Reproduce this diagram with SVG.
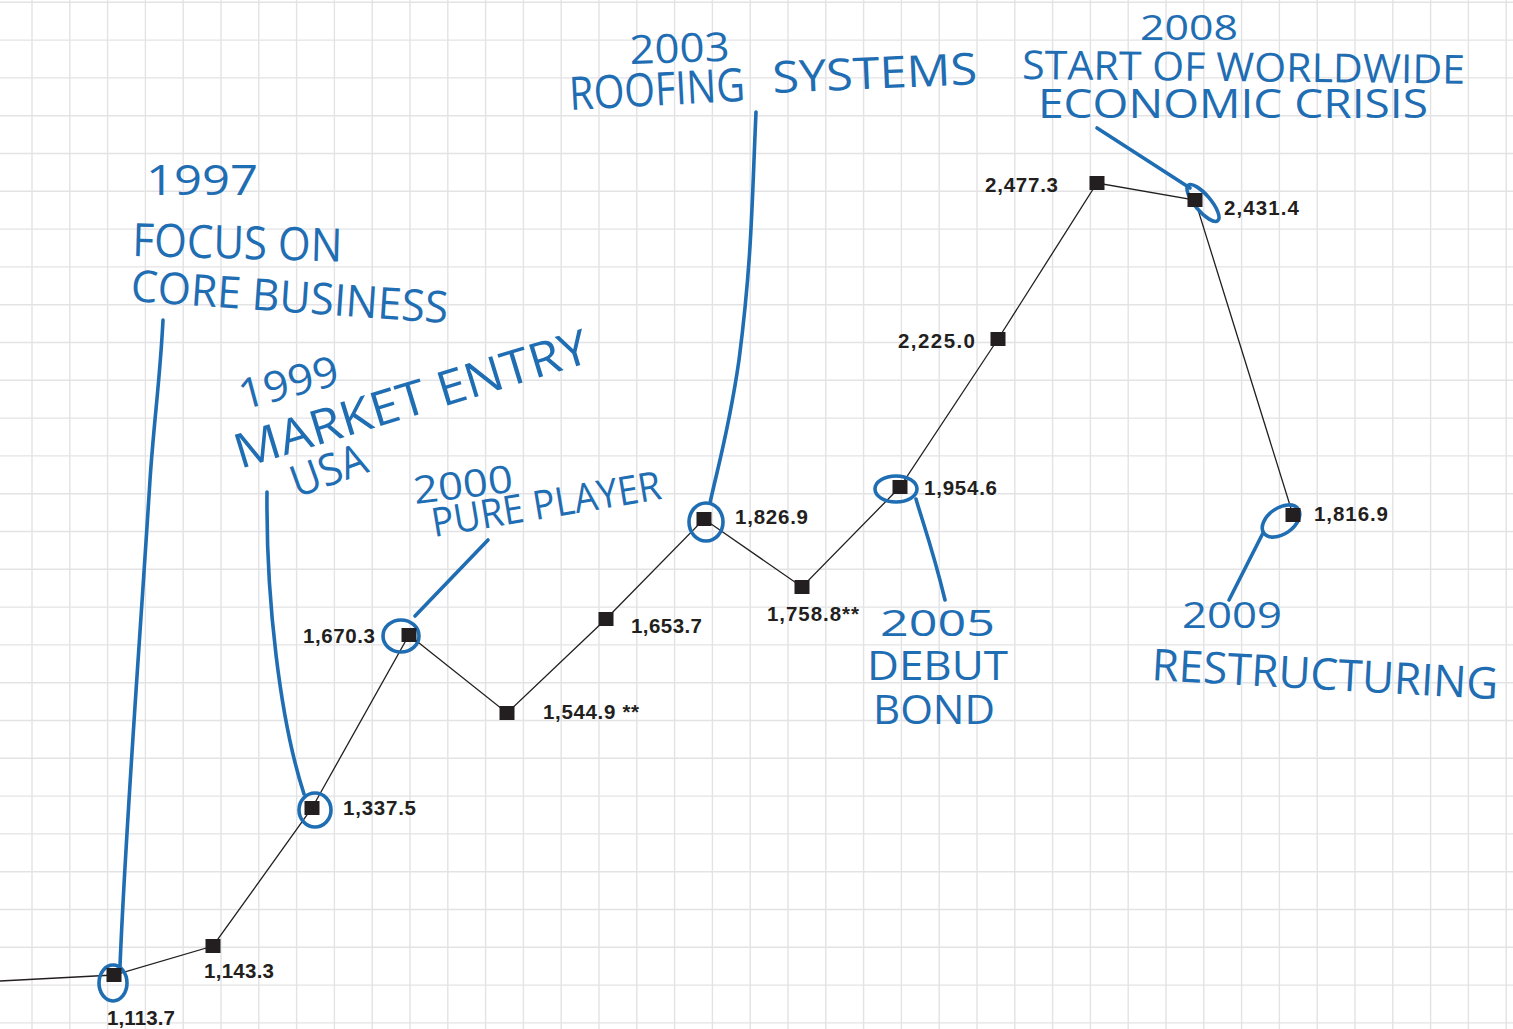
<svg xmlns="http://www.w3.org/2000/svg" width="1513" height="1029" viewBox="0 0 1513 1029">
  <style>
    .grid { stroke: #e3e3e6; stroke-width: 1.4; fill: none; }
    .series { stroke: #231f20; stroke-width: 1.3; fill: none; }
    .pt { fill: #231f20; }
    .val { font-family: "Liberation Sans", Arial, sans-serif; font-weight: bold; font-size: 20.5px; fill: #231f20; }
    .pen { stroke: #1f6db2; stroke-width: 3.6; fill: none; stroke-linecap: round; stroke-linejoin: round; }
    .hand { font-family: "Open Sans", "Noto Sans", sans-serif; font-weight: 400; fill: #1f6db2; }
  </style>

  <rect width="1513" height="1029" fill="#ffffff"/>

  <!-- squared paper -->
  <g id="grid" class="grid">
    <path d="M32 0V1029M69.8 0V1029M107.6 0V1029M145.4 0V1029M183.2 0V1029M221 0V1029M258.8 0V1029M296.6 0V1029M334.4 0V1029M372.2 0V1029M410 0V1029M447.8 0V1029M485.6 0V1029M523.4 0V1029M561.2 0V1029M599 0V1029M636.8 0V1029M674.6 0V1029M712.4 0V1029M750.2 0V1029M788 0V1029M825.8 0V1029M863.6 0V1029M901.4 0V1029M939.2 0V1029M977 0V1029M1014.8 0V1029M1052.6 0V1029M1090.4 0V1029M1128.2 0V1029M1166 0V1029M1203.8 0V1029M1241.6 0V1029M1279.4 0V1029M1317.2 0V1029M1355 0V1029M1392.8 0V1029M1430.6 0V1029M1468.4 0V1029M1506.2 0V1029"/>
    <path d="M0 2.3H1513M0 40.1H1513M0 77.9H1513M0 115.7H1513M0 153.5H1513M0 191.3H1513M0 229.1H1513M0 266.9H1513M0 304.7H1513M0 342.5H1513M0 380.3H1513M0 418.1H1513M0 455.9H1513M0 493.7H1513M0 531.5H1513M0 569.3H1513M0 607.1H1513M0 644.9H1513M0 682.7H1513M0 720.5H1513M0 758.3H1513M0 796.1H1513M0 833.9H1513M0 871.7H1513M0 909.5H1513M0 947.3H1513M0 985.1H1513M0 1022.9H1513"/>
  </g>

  <!-- series line and pen leaders -->
  <g id="connectors">
    <path class="series" d="M0 981L114 975L213 946L312 808L409 635L507 713L606 619L704 519L802 587L900 487L998 339L1097 183L1195 200L1293 515"/>

    <path class="pen" d="M163 320C160 380 154 420 150 480C140 640 126 820 120 966"/>
    <ellipse class="pen" cx="113" cy="983" rx="14" ry="18"/>

    <path class="pen" d="M267 492C266 600 280 720 304 794"/>
    <ellipse class="pen" cx="315" cy="810" rx="16" ry="17"/>

    <path class="pen" d="M488 540L415 616"/>
    <ellipse class="pen" cx="401" cy="636" rx="18" ry="16"/>

    <path class="pen" d="M756 112C752 200 752 260 739 360C729 430 717 470 710 503"/>
    <ellipse class="pen" cx="706" cy="522" rx="17" ry="19"/>

    <ellipse class="pen" cx="896" cy="489" rx="21" ry="13"/>
    <path class="pen" d="M916 499C922 520 933 550 945 600"/>

    <path class="pen" d="M1097 128L1190 188"/>
    <ellipse class="pen" cx="1203" cy="203" rx="23" ry="8" transform="rotate(50 1203 203)"/>

    <path class="pen" d="M1229 600L1263 533"/>
    <ellipse class="pen" cx="1281" cy="521" rx="21" ry="13" transform="rotate(-35 1281 521)"/>
  </g>

  <!-- data points -->
  <g id="p1997"><rect class="pt" x="106.5" y="968" width="15" height="14"/><text class="val" x="107" y="1025" textLength="68">1,113.7</text></g>
  <g id="p1998"><rect class="pt" x="205.5" y="939" width="15" height="14"/><text class="val" x="204" y="978" textLength="70">1,143.3</text></g>
  <g id="p1999"><rect class="pt" x="304.5" y="801" width="15" height="14"/><text class="val" x="343" y="815" textLength="73">1,337.5</text></g>
  <g id="p2000"><rect class="pt" x="401.5" y="628" width="15" height="14"/><text class="val" x="303" y="643" textLength="72">1,670.3</text></g>
  <g id="p2001"><rect class="pt" x="499.5" y="706" width="15" height="14"/><text class="val" x="543" y="719" textLength="96">1,544.9 **</text></g>
  <g id="p2002"><rect class="pt" x="598.5" y="612" width="15" height="14"/><text class="val" x="631" y="633" textLength="71">1,653.7</text></g>
  <g id="p2003"><rect class="pt" x="696.5" y="512" width="15" height="14"/><text class="val" x="735" y="524" textLength="73">1,826.9</text></g>
  <g id="p2004"><rect class="pt" x="794.5" y="580" width="15" height="14"/><text class="val" x="767" y="621" textLength="92">1,758.8**</text></g>
  <g id="p2005"><rect class="pt" x="892.5" y="480" width="15" height="14"/><text class="val" x="924" y="495" textLength="73">1,954.6</text></g>
  <g id="p2006"><rect class="pt" x="990.5" y="332" width="15" height="14"/><text class="val" x="898" y="348" textLength="77">2,225.0</text></g>
  <g id="p2007"><rect class="pt" x="1089.5" y="176" width="15" height="14"/><text class="val" x="985" y="192" textLength="73">2,477.3</text></g>
  <g id="p2008"><rect class="pt" x="1187.5" y="193" width="15" height="14"/><text class="val" x="1224" y="215" textLength="75">2,431.4</text></g>
  <g id="p2009"><rect class="pt" x="1285.5" y="508" width="15" height="14"/><text class="val" x="1314" y="521" textLength="74">1,816.9</text></g>

  <!-- handwritten notes -->
  <g id="note1997" class="hand">
    <text x="146" y="195" font-size="42" textLength="112" lengthAdjust="spacingAndGlyphs">1997</text>
    <text x="132" y="256" font-size="46" textLength="210" lengthAdjust="spacingAndGlyphs" transform="rotate(1.5 132 256)">FOCUS ON</text>
    <text x="130" y="301" font-size="44" textLength="318" lengthAdjust="spacingAndGlyphs" transform="rotate(4 130 301)">CORE BUSINESS</text>
  </g>

  <g id="note1999" class="hand">
    <text x="243" y="410" font-size="42" textLength="102" lengthAdjust="spacingAndGlyphs" transform="rotate(-15 243 410)">1999</text>
    <text x="240" y="469" font-size="48" textLength="368" lengthAdjust="spacingAndGlyphs" transform="rotate(-17 240 469)">MARKET ENTRY</text>
    <text x="297" y="498" font-size="44" textLength="78" lengthAdjust="spacingAndGlyphs" transform="rotate(-20 297 498)">USA</text>
  </g>

  <g id="note2000" class="hand">
    <text x="415" y="504" font-size="38" textLength="100" lengthAdjust="spacingAndGlyphs" transform="rotate(-7 415 504)">2000</text>
    <text x="434" y="537" font-size="40" textLength="232" lengthAdjust="spacingAndGlyphs" transform="rotate(-9.5 434 537)">PURE PLAYER</text>
  </g>

  <g id="note2003" class="hand">
    <text x="630" y="64" font-size="40" textLength="100" lengthAdjust="spacingAndGlyphs" transform="rotate(-2 630 64)">2003</text>
    <text x="570" y="110" font-size="46" textLength="176" lengthAdjust="spacingAndGlyphs" transform="rotate(-3 570 110)">ROOFING</text>
    <text x="773" y="93" font-size="44" textLength="205" lengthAdjust="spacingAndGlyphs" transform="rotate(-2.5 773 93)">SYSTEMS</text>
  </g>

  <g id="note2005" class="hand">
    <text x="880" y="636" font-size="36" textLength="115" lengthAdjust="spacingAndGlyphs">2005</text>
    <text x="867" y="680" font-size="40" textLength="141" lengthAdjust="spacingAndGlyphs">DEBUT</text>
    <text x="873" y="724" font-size="40" textLength="122" lengthAdjust="spacingAndGlyphs">BOND</text>
  </g>

  <g id="note2008" class="hand">
    <text x="1140" y="40" font-size="34" textLength="98" lengthAdjust="spacingAndGlyphs">2008</text>
    <text x="1022" y="79" font-size="40" textLength="443" lengthAdjust="spacingAndGlyphs" transform="rotate(0.6 1022 79)">START OF WORLDWIDE</text>
    <text x="1038" y="118" font-size="40" textLength="390" lengthAdjust="spacingAndGlyphs">ECONOMIC CRISIS</text>
  </g>

  <g id="note2009" class="hand">
    <text x="1182" y="628" font-size="36" textLength="100" lengthAdjust="spacingAndGlyphs">2009</text>
    <text x="1151" y="680" font-size="44" textLength="347" lengthAdjust="spacingAndGlyphs" transform="rotate(3.2 1151 680)">RESTRUCTURING</text>
  </g>
</svg>
